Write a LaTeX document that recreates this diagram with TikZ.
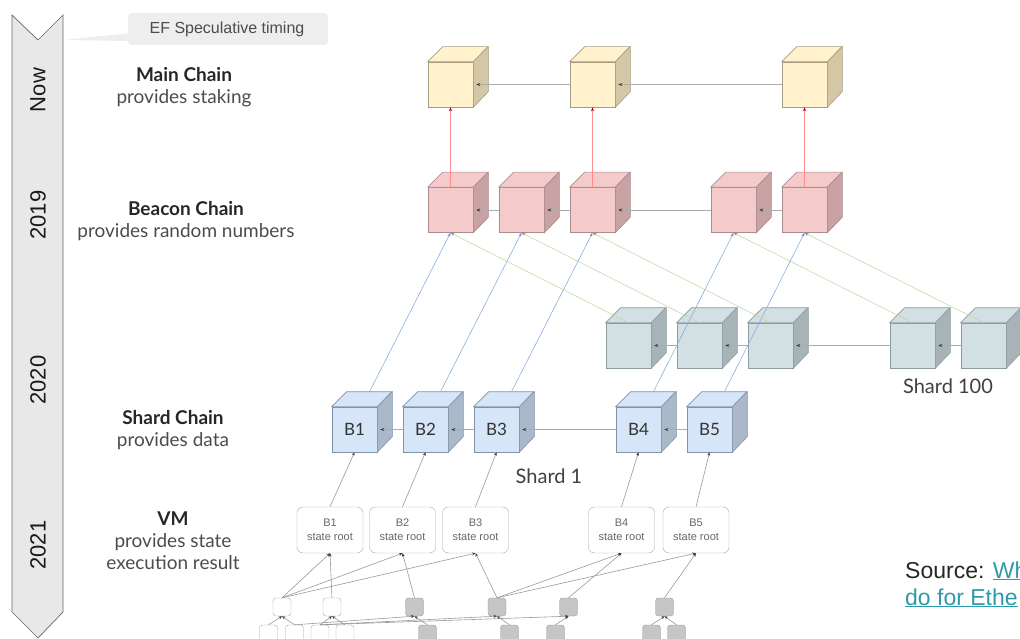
\documentclass[tikz,border=0pt]{standalone}
\usepackage{fontspec}
\setmainfont{Lato}
\newfontfamily\arialfont{Liberation Sans}
\usetikzlibrary{arrows.meta, positioning, calc}

\definecolor{mainfront}{HTML}{FFF2CC}
\definecolor{mainside}{HTML}{D3C7A5}
\definecolor{mainedge}{HTML}{A69C80}
\definecolor{beaconfront}{HTML}{F5CACB}
\definecolor{beaconside}{HTML}{C9A2A4}
\definecolor{beaconedge}{HTML}{A88C8E}
\definecolor{hundredfront}{HTML}{D2DFE3}
\definecolor{hundredside}{HTML}{A7B3B7}
\definecolor{hundrededge}{HTML}{8E9CA1}
\definecolor{shardfront}{HTML}{D6E5F8}
\definecolor{shardside}{HTML}{AAB8C9}
\definecolor{shardedge}{HTML}{8193AA}
\definecolor{bannergray}{HTML}{E8E8E8}
\definecolor{calloutgray}{HTML}{EEEEEE}
\definecolor{linkteal}{HTML}{2E9AA8}
\definecolor{bluewire}{HTML}{8AAEE0}
\definecolor{greenwire}{HTML}{C2DBA8}

% one block of a chain: front face as node, top and side faces drawn on it
\newcommand{\chaincube}[5]{%
  \node[cube, fill=#4front, draw=#4edge] (#1) at (#2,#3) {#5};
  \filldraw[fill=#4front, draw=#4edge, line width=0.6pt] (#1.north west) -- ++(15,-15) -- ++(45,0) -- (#1.north east) -- cycle;
  \filldraw[fill=#4side, draw=#4edge, line width=0.6pt] (#1.north east) -- ++(15,-15) -- ++(0,45) -- (#1.south east) -- cycle;
  \coordinate (#1-back) at ([shift={(15,-15)}]#1.north);
}

\tikzset{
  cube/.style={minimum size=45pt, inner sep=0pt, line width=0.6pt, text=black!80, font=\fontsize{17}{17}\selectfont},
  chainlink/.style={draw=gray!65, line width=0.7pt, -{Stealth[length=4pt,width=3pt,color=black!80]}},
  redlink/.style={draw=red!45, line width=0.7pt, -{Stealth[length=4pt,width=3pt,color=red!60!black]}},
  bluelink/.style={draw=bluewire, line width=0.6pt, -{Stealth[length=4pt,width=3pt,color=bluewire!80!black]}},
  greenlink/.style={draw=greenwire, line width=0.6pt, -{Stealth[length=4pt,width=3pt,color=greenwire!70!black]}},
  treelink/.style={draw=gray!80, line width=0.6pt, -{Stealth[length=3.5pt,width=3pt,color=black!75]}},
  vmbox/.style={draw=gray!70, rounded corners=6pt, minimum width=66pt, minimum height=46pt, inner sep=1pt,
    align=center, text=black!60, font=\arialfont\fontsize{11}{14}\selectfont},
  leaf/.style={draw=gray!70, fill=white, rounded corners=3pt, minimum size=18pt, inner sep=0pt},
  leafgray/.style={leaf, fill=gray!45, draw=gray!80},
  lbl/.style={align=center, text=black!70, font=\fontsize{19}{22}\selectfont},
  year/.style={rotate=90, text=black!90, font=\arialfont\fontsize{22}{22}\selectfont},
  shardname/.style={text=black!75, font=\fontsize{20}{20}\selectfont}
}

\begin{document}
\begin{tikzpicture}[x=1pt,y=-1pt]
\useasboundingbox (0,0) rectangle (1020,639);
\clip (0,0) rectangle (1020,639);

% timeline banner
\filldraw[fill=bannergray, draw=gray!80!black, line width=0.7pt] (12,15) -- (38,40) -- (63,15) -- (63,612) -- (38,638) -- (12,612) -- cycle;
\node[year] (now) at (38,90) {Now};
\node[year] (y19) at (38,215) {2019};
\node[year] (y20) at (38,380) {2020};
\node[year] (y21) at (38,545) {2021};

% callout
\fill[calloutgray] (130,33) -- (64,40) -- (130,41) -- cycle;
\fill[calloutgray, rounded corners=4pt] (128,13) rectangle (328,45);
\node[text=black!70, font=\arialfont\fontsize{16}{16}\selectfont] (ef) at (227,29) {EF Speculative timing};

% layer labels
\node[lbl] (lmain) at (184,87) {\textbf{\color{black!85}Main Chain}\\provides staking};
\node[lbl] (lbeacon) at (186,221) {\textbf{\color{black!85}Beacon Chain}\\provides random numbers};
\node[lbl] (lshard) at (173,430) {\textbf{\color{black!85}Shard Chain}\\provides data};
\node[lbl] (lvm) at (173,541) {\textbf{\color{black!85}VM}\\provides state\\execution result};

% chains
\foreach \n/\cx in {1/450.5, 2/592.5, 3/804.5} \chaincube{m\n}{\cx}{84.5}{main}{};
\foreach \n/\cx in {1/450.5, 2/521.5, 3/592.5, 4/733.5, 5/804.5} \chaincube{b\n}{\cx}{210}{beacon}{};
\foreach \n/\cx in {1/628.5, 2/699.5, 3/770.5, 4/912.5, 5/983.5} \chaincube{h\n}{\cx}{345.5}{hundred}{};
\foreach \n/\cx in {1/354.5, 2/425.5, 3/496.5, 4/638.5, 5/709.5} \chaincube{s\n}{\cx}{429.5}{shard}{B\n};

\foreach \i/\j in {2/1, 3/2} \draw[chainlink] (m\i.west) -- ([xshift=3pt]m\j.east);
\foreach \i/\j in {2/1, 3/2, 4/3, 5/4} {
  \draw[chainlink] (b\i.west) -- ([xshift=3pt]b\j.east);
  \draw[chainlink] (h\i.west) -- ([xshift=3pt]h\j.east);
  \draw[chainlink] (s\i.west) -- ([xshift=3pt]s\j.east);
}

\node[shardname] (n1) at (549,476) {Shard 1};
\node[shardname] (n100) at (948,386) {Shard 100};

% crosslinks
\foreach \i/\j in {1/1, 3/2, 5/3} \draw[redlink] (b\i.north) -- (m\j.south);
\foreach \n in {1,...,5} {
  \draw[bluelink] (s\n-back) -- (b\n.south);
  \draw[greenlink] (h\n.north) -- (b\n.south);
}

% VM state roots
\foreach \n/\cx in {1/330, 2/402.5, 3/475.5, 4/621.5, 5/696} {
  \node[vmbox] (v\n) at (\cx,530) {B\n\\state root};
  \draw[treelink] (v\n.north) -- (s\n.south);
}

% state tree
\node[leaf] (t1) at (282,607) {};
\node[leaf] (t2) at (332,607) {};
\node[leafgray] (t3) at (414.5,607) {};
\node[leafgray] (t4) at (497,607) {};
\node[leafgray] (t5) at (568.5,607) {};
\node[leafgray] (t6) at (664.5,607) {};
\foreach \n/\cx in {1/268.5, 2/294.5, 3/320, 4/345} \node[leaf] (u\n) at (\cx,634) {};
\foreach \n/\cx in {5/427.5, 6/509.5, 7/555.5, 8/651.5, 9/676.5} \node[leafgray] (u\n) at (\cx,634) {};

\foreach \i/\j in {t1/v1, t1/v2, t1/v3, t2/v1, t3/v2, t4/v3, t4/v4, t4/v5, t5/v4, t6/v5}
  \draw[treelink] (\i.north) -- (\j.south);
\foreach \i/\j in {u1/t1, u2/t1, u3/t2, u4/t2, u2/t3, u3/t4, u3/t5, u5/t3, u6/t4, u7/t5, u8/t6, u9/t6}
  \draw[treelink] (\i.north) -- (\j.south);

% source
\node[anchor=base west, inner sep=0pt, text=black!85, font=\arialfont\fontsize{23}{23}\selectfont] (src1) at (905,578) {Source: \textcolor{linkteal}{\underline{Wh}}};
\node[anchor=base west, inner sep=0pt, font=\arialfont\fontsize{23}{23}\selectfont] (src2) at (905,605) {\textcolor{linkteal}{\underline{do for Ethe}}};
\end{tikzpicture}
\end{document}
